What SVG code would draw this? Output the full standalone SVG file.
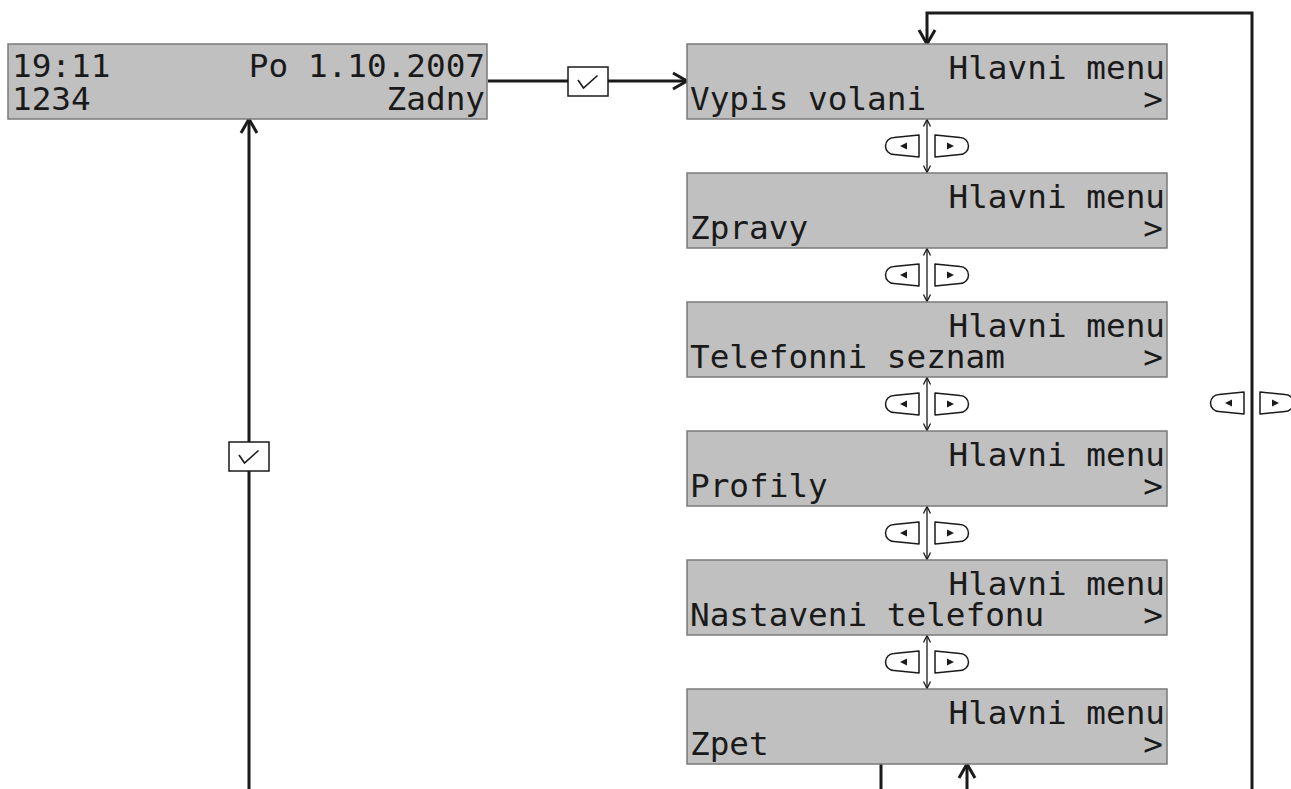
<svg xmlns="http://www.w3.org/2000/svg" xmlns:xlink="http://www.w3.org/1999/xlink" width="1291" height="789" viewBox="0 0 1291 789">
<style>
.lcd{fill:#c0c0c0;stroke:#7a7a7a;stroke-width:1.5}
.t{font-family:"DejaVu Sans Mono","Liberation Mono",monospace;font-size:32.7px;fill:#1a1a1a}
.e{text-anchor:end}
.thick{fill:none;stroke:#1a1a1a;stroke-width:3}
.thin{fill:none;stroke:#1a1a1a;stroke-width:1.3}
.chk{fill:#fff;stroke:#1a1a1a;stroke-width:1.5}
.key{fill:#fff;stroke:#1a1a1a;stroke-width:1.5;stroke-linejoin:round}
</style>
<defs>
<marker id="big" markerUnits="userSpaceOnUse" markerWidth="20" markerHeight="20" refX="14" refY="8" orient="auto-start-reverse" overflow="visible">
<path d="M0,0 L14,8 L0,16" fill="none" stroke="#1a1a1a" stroke-width="3"/>
</marker>
<marker id="sm" markerUnits="userSpaceOnUse" markerWidth="10" markerHeight="10" refX="7" refY="3.5" orient="auto-start-reverse" overflow="visible">
<path d="M0,0 L7,3.5 L0,7" fill="none" stroke="#1a1a1a" stroke-width="1.3"/>
</marker>
<g id="keyL">
<path class="key" d="M-8,-11 L-33,-8.5 A8.5,8.5 0 0 0 -33,8.5 L-8,11 Z"/>
<path d="M-27,0 L-20,-3.5 L-20,3.5 Z" fill="#1a1a1a"/>
</g>
<g id="keys">
<use xlink:href="#keyL"/>
<use xlink:href="#keyL" transform="scale(-1,1)"/>
</g>
<g id="check">
<rect class="chk" x="0" y="0" width="40" height="29"/>
<path d="M10,13 L15.5,21 L29.5,8.5" fill="none" stroke="#1a1a1a" stroke-width="1.6"/>
</g>
</defs>
<rect width="1291" height="789" fill="#fff"/>

<g id="connectors">
<line class="thick" x1="488" y1="81" x2="687" y2="81" marker-end="url(#big)"/>
<line class="thick" x1="249" y1="789" x2="249" y2="119" marker-end="url(#big)"/>
<path class="thick" d="M1252,789 V13 H927 V44" marker-end="url(#big)"/>
<line class="thick" x1="881" y1="764" x2="881" y2="789"/>
<line class="thick" x1="967" y1="789" x2="967" y2="764" marker-end="url(#big)"/>
<line class="thin" x1="927" y1="119.5" x2="927" y2="172.5" marker-start="url(#sm)" marker-end="url(#sm)"/>
<line class="thin" x1="927" y1="248.5" x2="927" y2="301.5" marker-start="url(#sm)" marker-end="url(#sm)"/>
<line class="thin" x1="927" y1="377.5" x2="927" y2="430.5" marker-start="url(#sm)" marker-end="url(#sm)"/>
<line class="thin" x1="927" y1="506.5" x2="927" y2="559.5" marker-start="url(#sm)" marker-end="url(#sm)"/>
<line class="thin" x1="927" y1="635.5" x2="927" y2="688.5" marker-start="url(#sm)" marker-end="url(#sm)"/>
<use xlink:href="#check" x="568" y="67"/>
<use xlink:href="#check" x="229" y="442"/>
<use xlink:href="#keys" transform="translate(927,146)"/>
<use xlink:href="#keys" transform="translate(927,275)"/>
<use xlink:href="#keys" transform="translate(927,404)"/>
<use xlink:href="#keys" transform="translate(927,533)"/>
<use xlink:href="#keys" transform="translate(927,662)"/>
<use xlink:href="#keys" transform="translate(1252,403)"/>
</g>

<g id="idle">
<rect class="lcd" x="8" y="44" width="479" height="75"/>
<text class="t" x="12" y="77">19:11</text>
<text class="t e" x="485" y="77">Po 1.10.2007</text>
<text class="t" x="12" y="110">1234</text>
<text class="t e" x="485" y="110">Zadny</text>
</g>

<g id="menu1">
<rect class="lcd" x="687" y="44" width="480" height="75"/>
<text class="t e" x="1165" y="79">Hlavni menu</text>
<text class="t" x="690" y="110">Vypis volani</text>
<text class="t e" x="1163" y="110">&gt;</text>
</g>
<g id="menu2">
<rect class="lcd" x="687" y="173" width="480" height="75"/>
<text class="t e" x="1165" y="208">Hlavni menu</text>
<text class="t" x="690" y="239">Zpravy</text>
<text class="t e" x="1163" y="239">&gt;</text>
</g>
<g id="menu3">
<rect class="lcd" x="687" y="302" width="480" height="75"/>
<text class="t e" x="1165" y="337">Hlavni menu</text>
<text class="t" x="690" y="368">Telefonni seznam</text>
<text class="t e" x="1163" y="368">&gt;</text>
</g>
<g id="menu4">
<rect class="lcd" x="687" y="431" width="480" height="75"/>
<text class="t e" x="1165" y="466">Hlavni menu</text>
<text class="t" x="690" y="497">Profily</text>
<text class="t e" x="1163" y="497">&gt;</text>
</g>
<g id="menu5">
<rect class="lcd" x="687" y="560" width="480" height="75"/>
<text class="t e" x="1165" y="595">Hlavni menu</text>
<text class="t" x="690" y="626">Nastaveni telefonu</text>
<text class="t e" x="1163" y="626">&gt;</text>
</g>
<g id="menu6">
<rect class="lcd" x="687" y="689" width="480" height="75"/>
<text class="t e" x="1165" y="724">Hlavni menu</text>
<text class="t" x="690" y="755">Zpet</text>
<text class="t e" x="1163" y="755">&gt;</text>
</g>
</svg>
